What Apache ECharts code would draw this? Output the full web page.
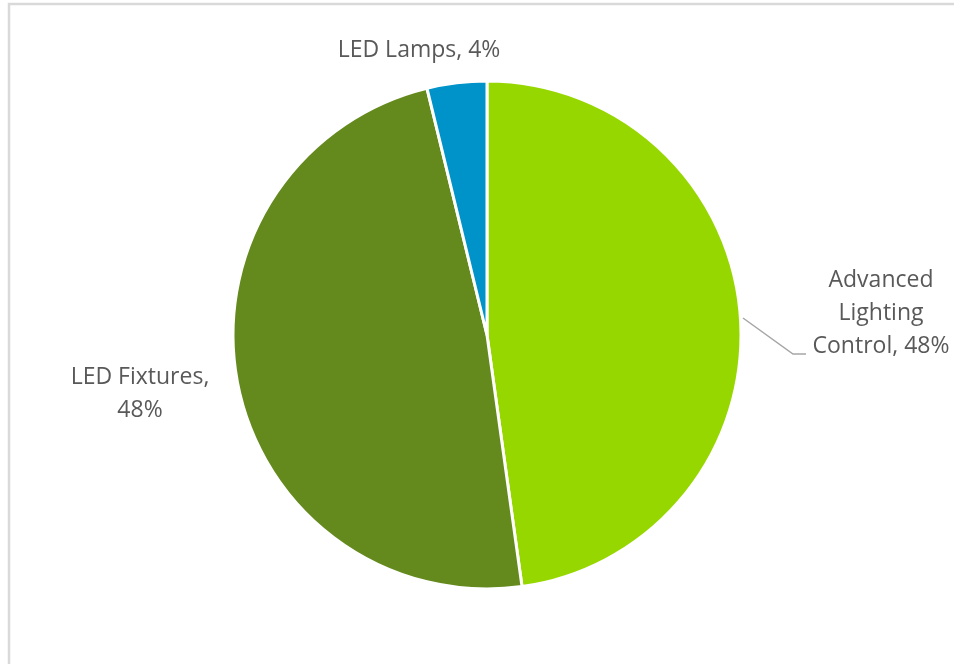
<!DOCTYPE html>
<html>
<head>
<meta charset="utf-8">
<script src="https://cdn.jsdelivr.net/npm/echarts@6/dist/echarts.min.js"></script>
<style>
html,body{margin:0;padding:0;background:#fff;}
#main{width:954px;height:664px;}
</style>
</head>
<body>
<div id="main"></div>
<script>
var categories = ['Advanced Lighting Control', 'LED Fixtures', 'LED Lamps'];
var values = [47.8, 48.4, 3.8];
var labelTexts = ['Advanced\nLighting\nControl, 48%', 'LED Fixtures,\n48%', 'LED Lamps, 4%'];
var colors = ['#97D700', '#648A1E', '#0093C9'];

var labelPos = [
  {x: 881, y: 313},
  {x: 140, y: 394},
  {x: 419, y: 50}
];

var chart = echarts.init(document.getElementById('main'));
chart.setOption({
  backgroundColor: '#fff',
  animation: false,
  graphic: [{
    type: 'rect',
    shape: {x: 9, y: 4, width: 1000, height: 700},
    style: {fill: 'none', stroke: '#d9d9d9', lineWidth: 2.5},
    silent: true
  }],
  series: [{
    type: 'pie',
    center: [487, 335],
    radius: 254,
    startAngle: 90,
    clockwise: true,
    avoidLabelOverlap: false,
    itemStyle: {borderColor: '#fff', borderWidth: 3},
    label: {
      show: true,
      position: 'outside',
      color: '#595959',
      fontSize: 23,
      fontFamily: 'Open Sans, Noto Sans, sans-serif',
      lineHeight: 33,
      align: 'center',
      formatter: function (p) { return labelTexts[p.dataIndex]; }
    },
    labelLine: {show: true, lineStyle: {color: '#a6a6a6', width: 1.5}, smooth: false},
    labelLayout: function (params) {
      var i = params.dataIndex;
      var res = {x: labelPos[i].x, y: labelPos[i].y, align: 'center', verticalAlign: 'middle'};
      if (i === 0) {
        res.labelLinePoints = [[743, 318], [793, 354], [806, 354]];
      }
      return res;
    },
    data: categories.map(function (c, i) {
      return {
        name: c,
        value: values[i],
        itemStyle: {color: colors[i]},
        labelLine: {show: i === 0}
      };
    })
  }]
});
</script>
</body>
</html>
